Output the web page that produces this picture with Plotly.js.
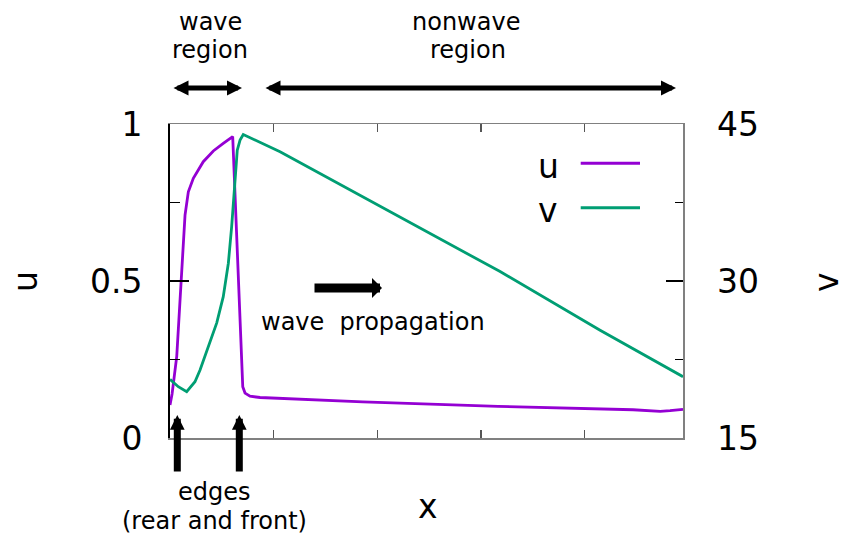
<!DOCTYPE html>
<html>
<head>
<meta charset="utf-8">
<script src="https://cdn.plot.ly/plotly-3.0.1.min.js"></script>
<style>
  html, body { margin: 0; padding: 0; background: #ffffff; }
  #chart { width: 849px; height: 545px; }
</style>
</head>
<body>
<div id="chart"></div>
<script>
// u profile (left axis)
const uX = [0, 2, 6.5, 11.3, 14.5, 17.7, 22.5, 32.1, 41.8, 51.4, 60.5, 70.2, 72.4, 77.2, 86.9, 186, 316.5, 446.8, 463, 473, 482.5, 495];
const uY = [0.105, 0.14, 0.26, 0.535, 0.71, 0.784, 0.827, 0.88, 0.914, 0.938, 0.96, 0.163, 0.143, 0.133, 0.129, 0.115, 0.101, 0.090, 0.087, 0.085, 0.087, 0.091];

// v profile (right axis)
const vX = [0, 8.0, 16.1, 24.1, 29.0, 38.6, 45.1, 51.4, 56.3, 59.5, 62.7, 64.9, 67.6, 70.7, 106.2, 318.5, 415, 495];
const vY = [20.6, 19.9, 19.42, 20.38, 21.5, 24.08, 26.0, 28.5, 31.7, 35.2, 39.65, 42.5, 43.47, 44.0, 42.35, 30.9, 25.3, 20.86];

const uTickVals = [0, 0.5, 1];
const uTickText = ['0', '0.5', '1'];
const vTickVals = [15, 30, 45];
const vTickText = ['15', '30', '45'];

const purple = '#9400d3';
const green = '#009e73';
const font = 'DejaVu Sans, sans-serif';

const traces = [
    {
        x: uX,
        y: uY,
        type: 'scatter',
        mode: 'lines',
        name: 'u',
        line: { color: purple, width: 2.8 },
        yaxis: 'y'
    },
    {
        x: vX,
        y: vY,
        type: 'scatter',
        mode: 'lines',
        name: 'v',
        line: { color: green, width: 2.8 },
        yaxis: 'y2'
    }
];

// helper: pixel -> paper
const px = p => (p - 170) / 513;
const py = p => (438 - p) / 314;

const textAnn = (text, x, y, size, angle) => ({
    text: text,
    xref: 'paper', yref: 'paper',
    x: px(x), y: py(y),
    xanchor: 'center', yanchor: 'middle',
    showarrow: false,
    textangle: angle || 0,
    font: { family: font, size: size, color: '#000000' }
});

const arrowAnn = (x, y, ax, ay, width, head, size, both) => ({
    text: '',
    xref: 'paper', yref: 'paper',
    axref: 'pixel', ayref: 'pixel',
    x: px(x), y: py(y),
    ax: ax, ay: ay,
    showarrow: true,
    arrowcolor: '#000000',
    arrowwidth: width,
    arrowhead: head,
    arrowsize: size,
    startarrowhead: head,
    startarrowsize: size,
    arrowside: both ? 'end+start' : 'end',
    standoff: 0,
    startstandoff: 0
});

const annotations = [
    textAnn('wave', 210, 22, 24),
    textAnn('region', 210, 50, 24),
    textAnn('nonwave', 466, 22, 24),
    textAnn('region', 468, 50, 24),
    arrowAnn(242, 88, -70, 0, 5, 2, 0.6, true),
    arrowAnn(676, 88, -412, 0, 5, 2, 0.6, true),
    arrowAnn(382, 288, -69, 0, 9, 1, 0.37, false),
    textAnn('wave\u00a0 propagation', 372.5, 322, 24),
    arrowAnn(177.3, 415, 0, 58, 7, 2, 0.42, false),
    arrowAnn(239.3, 415, 0, 58, 7, 2, 0.42, false),
    textAnn('edges', 214.7, 492, 24),
    textAnn('(rear and front)', 214.7, 521, 24),
    // axis titles
    textAnn('u', 25, 282, 33, -90),
    textAnn('v', 826, 282, 33, -90),
    textAnn('x', 427.5, 506, 33),
    // key
    textAnn('u', 548, 166, 33),
    textAnn('v', 548, 210, 33)
];

const shapes = [
    { type: 'line', xref: 'paper', yref: 'paper', x0: px(580.7), x1: px(640), y0: py(163.3), y1: py(163.3), line: { color: purple, width: 3 } },
    { type: 'line', xref: 'paper', yref: 'paper', x0: px(580.7), x1: px(640), y0: py(207.7), y1: py(207.7), line: { color: green, width: 3 } }
];

const layout = {
    width: 849,
    height: 545,
    showlegend: false,
    plot_bgcolor: '#ffffff',
    paper_bgcolor: '#ffffff',
    margin: { t: 124, b: 107, l: 170, r: 166 },
    font: { family: font, size: 33, color: '#000000' },
    xaxis: {
        range: [0, 495],
        tick0: 0,
        dtick: 100,
        ticks: 'inside',
        ticklen: 8,
        tickwidth: 1.5,
        tickcolor: '#555555',
        showticklabels: false,
        showline: true,
        linecolor: '#808080',
        linewidth: 1.5,
        mirror: 'ticks',
        showgrid: false,
        zeroline: false
    },
    yaxis: {
        range: [0, 1],
        tickvals: uTickVals,
        ticktext: uTickText,
        ticks: 'inside',
        ticklen: 19,
        tickwidth: 1.5,
        tickcolor: '#000000',
        ticklabelstandoff: 19,
        minor: { tickvals: [0.25, 0.75], ticks: 'inside', ticklen: 10, tickwidth: 1.5, tickcolor: '#000000', showgrid: false },
        showline: true,
        linecolor: '#000000',
        linewidth: 2,
        showgrid: false,
        zeroline: false,
        tickfont: { family: font, size: 33, color: '#000000' }
    },
    yaxis2: {
        range: [15, 45],
        overlaying: 'y',
        side: 'right',
        tickvals: vTickVals,
        ticktext: vTickText,
        ticks: 'inside',
        ticklen: 17,
        tickwidth: 1.5,
        tickcolor: '#000000',
        ticklabelstandoff: 26,
        minor: { tickvals: [22.5, 37.5], ticks: 'inside', ticklen: 8, tickwidth: 1.5, tickcolor: '#000000', showgrid: false },
        showline: true,
        linecolor: '#808080',
        linewidth: 1.5,
        showgrid: false,
        zeroline: false,
        tickfont: { family: font, size: 33, color: '#000000' }
    },
    annotations: annotations,
    shapes: shapes
};

Plotly.newPlot('chart', traces, layout, { displayModeBar: false, staticPlot: true });
</script>
</body>
</html>
